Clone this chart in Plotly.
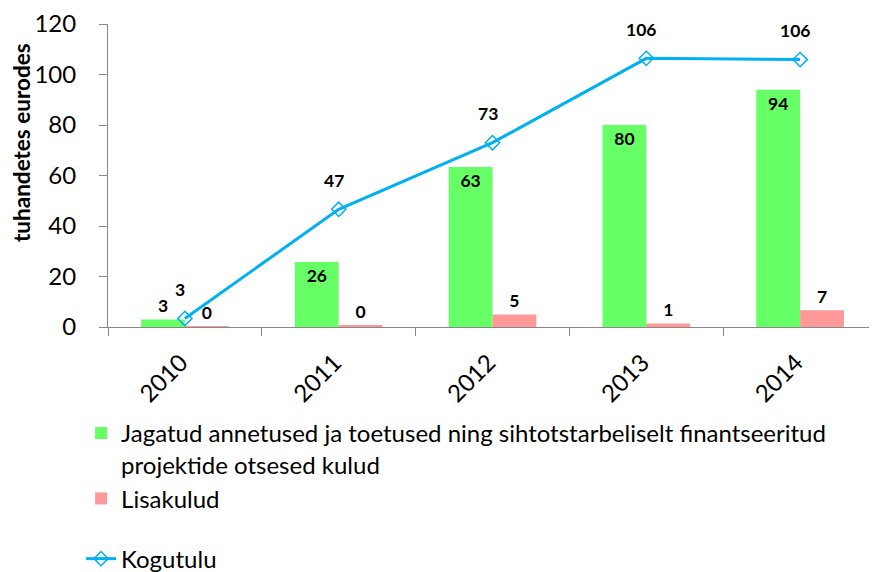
import plotly.graph_objects as go

years = ["2010", "2011", "2012", "2013", "2014"]
direct_costs = [3.0, 25.7, 63.4, 80.0, 94.0]
extra_costs = [0.2, 0.4, 5.0, 1.4, 6.6]
total_income = [3.4, 46.6, 73.0, 106.4, 105.9]

name_direct = "Jagatud annetused ja toetused ning sihtotstarbeliselt finantseeritud<br>projektide otsesed kulud"
name_extra = "Lisakulud"
name_total = "Kogutulu"
y_title = "tuhandetes eurodes"

FONT = "Lato"
lblfont = dict(family=FONT, size=17.5, color="black", weight="bold")
xpos = list(range(len(years)))

fig = go.Figure()
fig.add_trace(go.Bar(
    x=xpos, y=direct_costs, name=name_direct,
    marker=dict(color="#66FF66", line=dict(width=0)),
    text=[f"{v:.0f}" for v in direct_costs],
    textposition=["outside" if v < 10 else "inside" for v in direct_costs],
    insidetextanchor="end", constraintext="none", textfont=lblfont,
    legendgroup="bars", cliponaxis=False,
))
fig.add_trace(go.Bar(
    x=xpos, y=extra_costs, name=name_extra,
    marker=dict(color="#FF9999", line=dict(width=0)),
    text=[f"{v:.0f}" for v in extra_costs], textposition="outside",
    constraintext="none", textfont=lblfont,
    legendgroup="bars", cliponaxis=False,
))
fig.add_trace(go.Scatter(
    x=xpos, y=total_income, name=name_total, mode="lines+markers",
    line=dict(color="#00B0F0", width=3),
    marker=dict(symbol="diamond-open", size=11, color="#00B0F0", line=dict(width=1.5)),
    legendgroup="line", cliponaxis=False,
))
for xi, v in zip(xpos, total_income):
    fig.add_annotation(x=xi, y=v, xref="x", yref="y", text=f"{v:.0f}", showarrow=False,
                       xshift=-5, yshift=29, font=lblfont)

fig.add_annotation(xref="paper", yref="paper", x=(21 - 108) / 769, y=(327 - 143) / 303,
                   xanchor="center", yanchor="middle",
                   text=y_title, textangle=-90, showarrow=False,
                   font=dict(family=FONT, size=22.5, color="black", weight="bold"))

# page body has an 8px default margin, so the figure is sized to fit the window
fig.update_layout(
    width=869, height=564,
    margin=dict(l=100, r=0, t=16, b=245, autoexpand=False),
    paper_bgcolor="white", plot_bgcolor="white",
    barmode="group", bargap=0.43, bargroupgap=0,
    font=dict(family=FONT, size=24, color="black"),
    legend=dict(
        orientation="v", x=-0.035, y=-0.277, xanchor="left", yanchor="top",
        traceorder="grouped", tracegroupgap=26, valign="top",
        font=dict(family=FONT, size=24, color="black"),
        itemwidth=30, bgcolor="rgba(0,0,0,0)",
    ),
    xaxis=dict(
        range=[-0.5, len(years) - 0.5],
        tickmode="array", tickvals=xpos, ticktext=years, tickangle=-45,
        ticks="", showline=True, linecolor="#888888", linewidth=1,
        showgrid=False, zeroline=False, tickfont=dict(family=FONT, size=24),
        ticklabelstandoff=11, ticklabelshift=-4,
        minor=dict(tick0=-0.5, dtick=1, ticks="outside", ticklen=8, tickcolor="#888888", showgrid=False),
    ),
    yaxis=dict(
        range=[0, 120], dtick=20, ticks="outside", ticklen=8,
        tickcolor="#888888", showline=True, linecolor="#888888", linewidth=1,
        showgrid=False, zeroline=False, tickfont=dict(family=FONT, size=24),
        ticklabelstandoff=18,
    ),
)

fig.write_html("out.html")
